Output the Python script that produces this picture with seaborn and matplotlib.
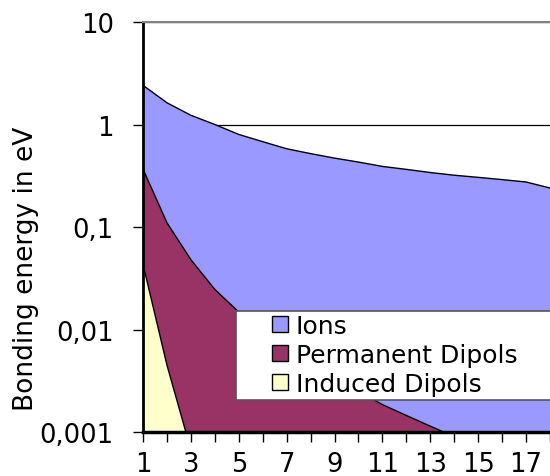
import matplotlib
matplotlib.use("Agg")
import matplotlib.pyplot as plt
from matplotlib.patches import Patch, Rectangle
import seaborn as sns
import numpy as np

# distance (arbitrary units) and bonding energies
distance = list(range(1, 19))
ions = [2.41, 1.63, 1.23, 1.0, 0.80, 0.68, 0.58, 0.52, 0.47, 0.43, 0.39,
        0.365, 0.34, 0.32, 0.305, 0.29, 0.275, 0.24]
permanent = [0.367, 0.110, 0.048, 0.0246, 0.0148, 0.0098, 0.0067, 0.0047,
             0.0034, 0.0025, 0.00185, 0.00145, 0.00114, 0.0009, 0.00072,
             0.00058, 0.00047, 0.00038]
induced = [0.0433, 0.0045, 0.00067, 0.00013, 0.00004, 0.000015, 0.000006,
           0.000003, 0.0000015, 0.000001, 0.000001, 0.000001, 0.000001,
           0.000001, 0.000001, 0.000001, 0.000001, 0.000001]

series = ["Ions", "Permanent Dipols", "Induced Dipols"]
colors = ["#9999FF", "#993366", "#FFFFCC"]

yticks = [0.001, 0.01, 0.1, 1, 10]
ytick_labels = ["0,001", "0,01", "0,1", "1", "10"]
xtick_labels = [str(d) if d % 2 == 1 else "" for d in distance]

sns.set_style("white")
plt.rcParams["font.family"] = ["DejaVu Sans"]
plt.rcParams["text.color"] = "black"
plt.rcParams["axes.labelcolor"] = "black"

fig = plt.figure(figsize=(5.5, 4.77), dpi=100)
ax = fig.add_axes([143 / 550, 1 - 433 / 477, 1 - 143 / 550, (433 - 23) / 477])

for vals, col in zip([ions, permanent, induced], colors):
    ax.fill_between(distance, vals, 1e-7, color=col, lw=0, zorder=2)
    sns.lineplot(x=distance, y=vals, color="black", lw=1, ax=ax, zorder=3)

ax.set_yscale("log")
ax.set_ylim(0.001, 10)
ax.set_xlim(1, 17.76)
ax.set_yticks(yticks, ytick_labels)
ax.set_xticks(distance, xtick_labels)
ax.minorticks_off()
ax.tick_params(axis="both", which="major", direction="out", length=7,
               width=1, color="black", labelcolor="black", labelsize=18.5,
               left=True, bottom=True)
ax.tick_params(axis="y", pad=14)
ax.tick_params(axis="x", pad=7)

ax.grid(axis="y", color="black", lw=0.9)
ax.set_axisbelow(True)

ax.spines["left"].set_color("black")
ax.spines["left"].set_linewidth(2)
ax.spines["bottom"].set_color("black")
ax.spines["bottom"].set_linewidth(2.5)
ax.spines["bottom"].set_zorder(4)
ax.spines["top"].set_color("#808080")
ax.spines["top"].set_linewidth(1.5)
ax.spines["right"].set_visible(False)

ax.set_xlabel("")
ax.set_ylabel("Bonding energy in eV", fontsize=19)
ax.yaxis.set_label_coords(-0.255, 0.40)

# legend box, running off the right edge as in the original
box = Rectangle((236 / 550, 1 - 401 / 477), 0.7, (401 - 312) / 477,
                transform=fig.transFigure, facecolor="white",
                edgecolor="#555555", lw=1.2, zorder=5)
fig.patches.append(box)

handles = [Patch(facecolor=c, edgecolor="black", lw=1) for c in colors]
leg = fig.legend(handles, series, loc="upper left",
                 bbox_to_anchor=(272 / 550, 1 - 315 / 477),
                 borderaxespad=0, borderpad=0, fontsize=18, frameon=False,
                 handlelength=0.64, handleheight=0.64, handletextpad=0.3,
                 labelspacing=0.2)
leg.set_zorder(6)

fig.savefig("out.png", dpi=100)
